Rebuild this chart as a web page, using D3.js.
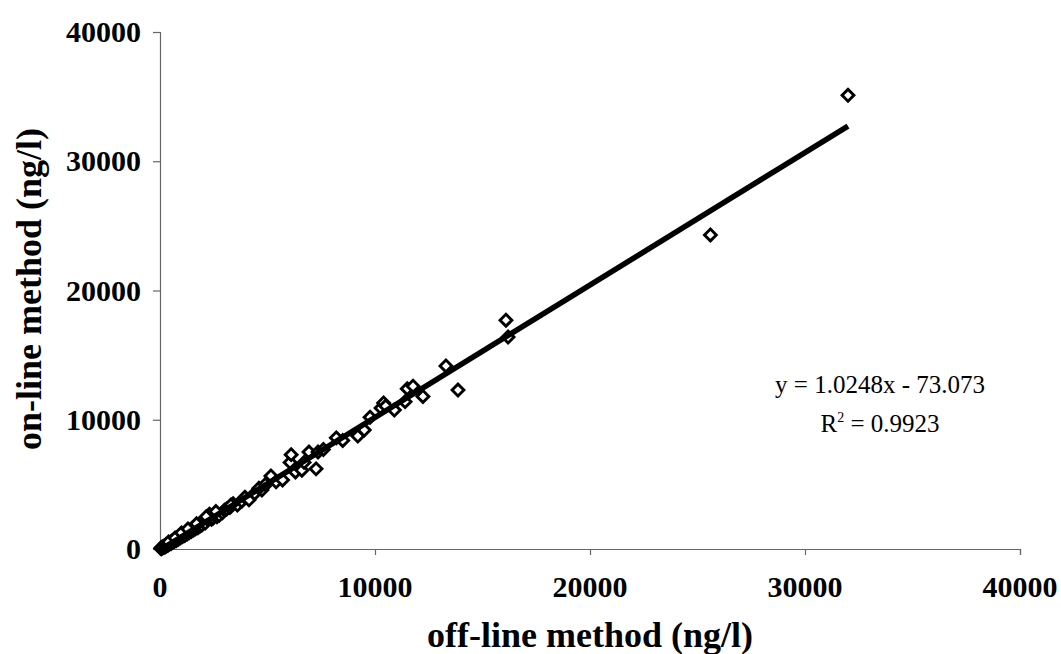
<!DOCTYPE html>
<html>
<head>
<meta charset="utf-8">
<script src="https://cdn.jsdelivr.net/npm/d3@7"></script>
<style>
  body { margin: 0; background: #fff; }
  svg { display: block; font-family: "Liberation Serif", "Times New Roman", serif; }
</style>
</head>
<body>
<svg id="chart" width="1061" height="654"></svg>
<script>
// off-line method (ng/l) vs on-line method (ng/l)
const offline = [
  30, 60, 90, 120, 150, 180, 210, 250, 280, 320, 350, 380, 420, 450, 490, 520,
  560, 600, 640, 680, 720, 760, 800, 850, 900, 950, 1000, 1050, 1100, 1150, 1200,
  1260, 1300, 1350, 1400, 1450, 1500, 1560, 1600, 1650, 1700, 1760, 1800, 1850,
  1900, 1950, 2000, 2050, 2100, 2200, 2300, 2400, 2470, 2550, 2650, 2750, 2900,
  3000, 3100, 3250, 3400, 3600, 3800, 3950, 4140, 4400, 4740, 5000, 5160, 5400,
  5700, 6050, 6100, 6300, 6600, 6700, 6930, 7260, 7350, 7600, 8200, 8500, 9200,
  9500, 9770, 10280, 10400, 10500, 10900, 11400, 11500, 11770, 12230, 13300,
  13860, 16090, 16190, 25600, 32000,
  400, 700, 1000, 1300, 1700, 2150, 2600, 3300, 4600, 4900
];
const online = [
  60, 20, 140, 90, 200, 120, 260, 180, 330, 250, 400, 300, 460, 380, 540, 430,
  620, 520, 700, 600, 780, 660, 840, 760, 950, 860, 1050, 960, 1150, 1050, 1280,
  1150, 1380, 1250, 1480, 1360, 1600, 1470, 1700, 1560, 1800, 1650, 1900, 1750,
  2000, 1850, 2100, 2240, 2000, 2300, 2700, 2300, 2400, 2600, 2500, 2600, 2800,
  3000, 3100, 3200, 3500, 3400, 3700, 4000, 3800, 4300, 4560, 5100, 5650, 5200,
  5340, 6700, 7300, 5960, 6100, 6700, 7500, 6200, 7500, 7700, 8600, 8400, 8740,
  9200, 10200, 10900, 11300, 11060, 10750, 11400, 12400, 12600, 11800, 14160,
  12300, 17700, 16400, 24300, 35100,
  550, 850, 1250, 1550, 1950, 2500, 2900, 3400, 4700, 5000
];
const xTicks = [0, 10000, 20000, 30000, 40000];
const yTicks = [0, 10000, 20000, 30000, 40000];
const slope = 1.0248, intercept = -73.073;
const eqLabel = "y = 1.0248x - 73.073";
const r2Value = "0.9923";

const svg = d3.select("#chart");
const x = d3.scaleLinear().domain([0, 40000]).range([160, 1020]);
const y = d3.scaleLinear().domain([0, 40000]).range([549, 32]);

// axes
const xAxis = svg.append("g").attr("transform", `translate(0,${y(0)})`)
  .call(d3.axisBottom(x).tickValues(xTicks.slice(1)).tickSize(6).tickFormat(""));
const yAxis = svg.append("g").attr("transform", `translate(${x(0)},0)`)
  .call(d3.axisLeft(y).tickValues(yTicks).tickSize(7).tickFormat(""));
[xAxis, yAxis].forEach(a => {
  a.select(".domain").attr("stroke", "#666").attr("stroke-width", 1.2);
  a.selectAll(".tick line").attr("stroke", "#666").attr("stroke-width", 1.2);
});
svg.append("line").attr("x1", x(0)).attr("x2", x(0)).attr("y1", y(0)).attr("y2", y(0) + 6)
  .attr("stroke", "#666");

// tick labels
svg.append("g").selectAll("text").data(xTicks).join("text")
  .attr("x", d => x(d)).attr("y", 597)
  .attr("text-anchor", "middle")
  .attr("font-size", 30).attr("font-weight", "bold")
  .text(d => d);
svg.append("g").selectAll("text").data(yTicks).join("text")
  .attr("x", 141).attr("y", d => y(d) + 10)
  .attr("text-anchor", "end")
  .attr("font-size", 30).attr("font-weight", "bold")
  .text(d => d);

// axis titles
svg.append("text").attr("x", 590).attr("y", 647)
  .attr("text-anchor", "middle").attr("font-size", 36).attr("font-weight", "bold")
  .text("off-line method (ng/l)");
svg.append("text").attr("transform", "translate(41,289) rotate(-90)")
  .attr("text-anchor", "middle").attr("font-size", 36).attr("font-weight", "bold")
  .text("on-line method (ng/l)");

// points
const pts = offline.map((v, i) => [v, online[i]]);
const diamond = d3.symbol().type(d3.symbolSquare).size(70);
svg.append("g").selectAll("path").data(pts).join("path")
  .attr("d", diamond)
  .attr("transform", d => `translate(${x(d[0])},${y(d[1])}) rotate(45)`)
  .attr("fill", "#fff").attr("stroke", "#000").attr("stroke-width", 2.9);

// linear trendline
const xMin = d3.min(offline), xMax = d3.max(offline);
svg.append("line")
  .attr("x1", x(xMin)).attr("y1", y(slope * xMin + intercept))
  .attr("x2", x(xMax)).attr("y2", y(slope * xMax + intercept))
  .attr("stroke", "#000").attr("stroke-width", 5.5);

// equation
svg.append("text").attr("x", 880).attr("y", 393).attr("text-anchor", "middle")
  .attr("font-size", 25).text(eqLabel);
const r2 = svg.append("text").attr("x", 880).attr("y", 432).attr("text-anchor", "middle")
  .attr("font-size", 25);
r2.append("tspan").text("R");
r2.append("tspan").attr("font-size", 14).attr("dy", -10).text("2");
r2.append("tspan").attr("dy", 10).text(" = " + r2Value);
</script>
</body>
</html>
